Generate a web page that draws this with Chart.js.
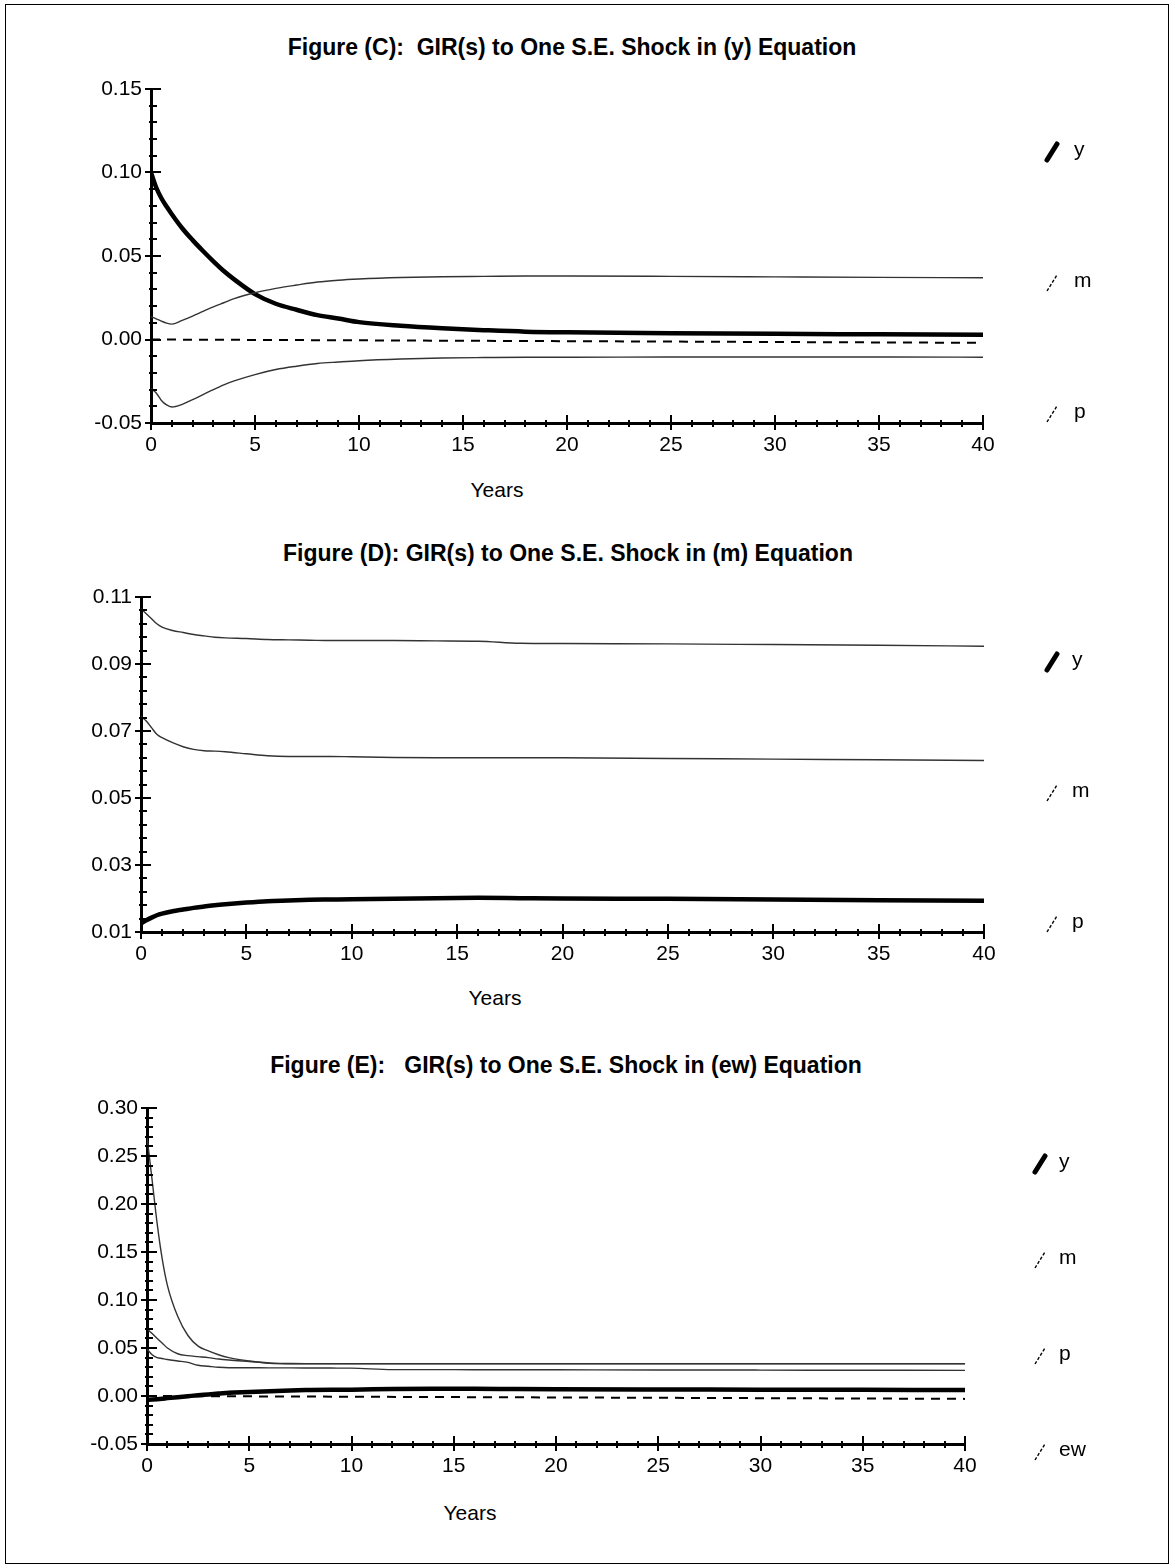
<!DOCTYPE html>
<html><head><meta charset="utf-8">
<script src="https://cdn.jsdelivr.net/npm/chart.js@4.4.1/dist/chart.umd.min.js"></script>
<style>
html,body{margin:0;padding:0;background:#fff;}
body{width:1175px;height:1568px;position:relative;overflow:hidden;font-family:"Liberation Sans",Arial,sans-serif;color:#000;}
.frame{position:absolute;left:5px;top:4px;width:1162px;height:1558px;border:1px solid #000;}
.title{position:absolute;width:800px;text-align:center;font-family:"Liberation Sans Narrow","Arial Narrow","Liberation Sans",sans-serif;font-weight:bold;font-size:23px;line-height:26px;white-space:pre;}
.xlab{position:absolute;width:200px;text-align:center;font-size:21px;line-height:24px;}
canvas{position:absolute;left:0;}
</style></head>
<body>
<div class="frame"></div>
<div class="title" style="left:172px;top:34px;">Figure (C):  GIR(s) to One S.E. Shock in (y) Equation</div>
<div class="title" style="left:168px;top:540px;">Figure (D): GIR(s) to One S.E. Shock in (m) Equation</div>
<div class="title" style="left:166px;top:1052px;">Figure (E):   GIR(s) to One S.E. Shock in (ew) Equation</div>
<div class="xlab" style="left:397px;top:478px;">Years</div>
<div class="xlab" style="left:395px;top:986px;">Years</div>
<div class="xlab" style="left:370px;top:1501px;">Years</div>
<canvas id="cC" width="1175" height="420" style="top:60px"></canvas>
<canvas id="cD" width="1175" height="420" style="top:560px"></canvas>
<canvas id="cE" width="1175" height="420" style="top:1075px"></canvas>
<script>
// ---- data ----
const years = [0,0.25,0.5,0.75,1,1.5,2,2.5,3,3.5,4,5,6,7,8,9,10,12,14,16,18,20,25,30,35,40];
const xTickLabels = [0,5,10,15,20,25,30,35,40];

// Figure (C): shock in (y) equation
const C_y = [0.100,0.091,0.0846,0.0796,0.0750,0.0666,0.0595,0.0530,0.0468,0.0410,0.0360,0.0272,0.0214,0.0178,0.0146,0.0126,0.0104,0.0082,0.0067,0.0056,0.0047,0.0043,0.0038,0.0034,0.0031,0.0028];
const C_m = [0.0136,0.0124,0.0110,0.0098,0.0092,0.0115,0.0140,0.0168,0.0195,0.0220,0.0245,0.0280,0.0306,0.0326,0.0344,0.0355,0.0362,0.0371,0.0376,0.0378,0.0380,0.0380,0.0378,0.0375,0.0372,0.0370];
const C_p = [-0.0294,-0.0320,-0.0365,-0.0392,-0.0404,-0.0388,-0.0360,-0.0330,-0.0300,-0.0272,-0.0248,-0.0210,-0.0180,-0.0160,-0.0144,-0.0135,-0.0127,-0.0117,-0.0111,-0.0108,-0.0106,-0.0106,-0.0105,-0.0105,-0.0105,-0.0106];
const C_yTicks = [-0.05,0.00,0.05,0.10,0.15];

// Figure (D): shock in (m) equation
const D_y = [0.0125,0.0135,0.0143,0.015,0.0155,0.0162,0.0167,0.0172,0.0176,0.018,0.0183,0.0188,0.0192,0.0194,0.0196,0.0197,0.0198,0.0199,0.0201,0.0202,0.0201,0.0200,0.0199,0.0197,0.0195,0.0193];
const D_m = [0.1065,0.105,0.1035,0.102,0.101,0.100,0.0994,0.0988,0.0984,0.098,0.0978,0.0976,0.0973,0.0972,0.0971,0.097,0.097,0.097,0.0969,0.0968,0.0962,0.0961,0.096,0.0958,0.0956,0.0953];
const D_p = [0.0743,0.073,0.071,0.069,0.068,0.0665,0.0653,0.0645,0.0641,0.064,0.0638,0.0632,0.0626,0.0624,0.0624,0.0624,0.0623,0.0621,0.062,0.062,0.062,0.062,0.0618,0.0616,0.0614,0.0612];
const D_yTicks = [0.01,0.03,0.05,0.07,0.09,0.11];

// Figure (E): shock in (ew) equation
const E_y  = [-0.004,-0.0037,-0.0033,-0.0028,-0.0022,-0.0012,-0.0002,0.0008,0.0016,0.0025,0.0035,0.0042,0.0050,0.0058,0.0062,0.0065,0.0066,0.0072,0.0075,0.0075,0.0072,0.0070,0.0068,0.0066,0.0064,0.0062];
const E_m  = [0.070,0.065,0.060,0.055,0.050,0.044,0.042,0.041,0.040,0.0385,0.0375,0.036,0.0345,0.0338,0.0337,0.0337,0.0337,0.0337,0.0337,0.0337,0.0337,0.0337,0.0337,0.0337,0.0337,0.0337];
const E_p  = [0.049,0.043,0.040,0.039,0.038,0.0365,0.035,0.032,0.031,0.030,0.0295,0.0294,0.0293,0.0293,0.0292,0.0291,0.029,0.0275,0.0275,0.0274,0.0274,0.0273,0.0271,0.027,0.0268,0.0267];
const E_ew = [0.270,0.225,0.179,0.142,0.115,0.083,0.063,0.052,0.047,0.043,0.040,0.0365,0.034,0.0335,0.0335,0.0335,0.0335,0.0335,0.0335,0.0335,0.0335,0.0335,0.0335,0.0335,0.0335,0.0335];
const E_yTicks = [-0.05,0.00,0.05,0.10,0.15,0.20,0.25,0.30];

// dashed zero reference line
const zeroYears = [0,40];
const C_zero = [0.000,-0.002];
const E_zero = [0.000,-0.003];

// ---- drawing ----
Chart.defaults.font.family = '"Liberation Sans", Arial, sans-serif';
Chart.defaults.color = '#000';

const crossTicks = {
  id:'crossTicks',
  afterDraw(chart){
    const ctx = chart.ctx, xs = chart.scales.x, ys = chart.scales.y;
    const ax = chart.chartArea.left, ay = chart.chartArea.bottom;
    ctx.save(); ctx.strokeStyle = '#000'; ctx.lineWidth = 2;
    ys.ticks.forEach(t => {
      const py = Math.round(ys.getPixelForValue(t.value));
      const major = t.label !== '';
      ctx.beginPath(); ctx.moveTo(ax - (major?6:2), py); ctx.lineTo(ax + (major?10:6), py); ctx.stroke();
    });
    xs.ticks.forEach(t => {
      const px = Math.round(xs.getPixelForValue(t.value));
      const major = t.label !== '';
      ctx.beginPath(); ctx.moveTo(px, ay - (major?8:3)); ctx.lineTo(px, ay + (major?7:4)); ctx.stroke();
    });
    ctx.restore();
  }
};

const sideLegend = {
  id:'sideLegend',
  afterDraw(chart, args, o){
    const ctx = chart.ctx;
    ctx.save();
    o.items.forEach((it, i) => {
      const cy = chart.chartArea.top + o.top + i*o.step;
      ctx.beginPath();
      if (it.thick) { ctx.lineWidth = 5; ctx.setLineDash([]); ctx.lineCap='round'; }
      else { ctx.lineWidth = 1.4; ctx.setLineDash([3,2]); ctx.lineCap='butt'; }
      ctx.strokeStyle = '#000';
      ctx.moveTo(o.iconX - 5, cy + 8); ctx.lineTo(o.iconX + 5, cy - 8); ctx.stroke();
      ctx.setLineDash([]);
      ctx.fillStyle = '#000'; ctx.font = '21px "Liberation Sans", Arial, sans-serif';
      ctx.textBaseline = 'middle'; ctx.textAlign = 'left';
      ctx.fillText(it.label, o.textX, cy - 2);
    });
    ctx.restore();
  }
};

function pts(xs, ys){ return xs.map((x,i)=>({x:x, y:ys[i]})); }
function thick(label, ys){ return {label, data:pts(years, ys), borderColor:'#000', borderWidth:4.5, pointRadius:0, tension:0, cubicInterpolationMode:'monotone', fill:false}; }
function thin(label, ys){ return {label, data:pts(years, ys), borderColor:'#333', borderWidth:1.4, pointRadius:0, tension:0, cubicInterpolationMode:'monotone', fill:false}; }
function zero(ys){ return {label:'zero', data:pts(zeroYears, ys), borderColor:'#000', borderWidth:2, borderDash:[9,7], pointRadius:0, fill:false}; }

function build(id, cfg){
  const near = (v, arr) => arr.some(a => Math.abs(a - v) < 1e-7);
  new Chart(document.getElementById(id), {
    type:'line',
    data:{datasets:cfg.datasets},
    options:{
      responsive:false, animation:false, devicePixelRatio:1,
      layout:{padding:cfg.pad},
      plugins:{legend:{display:false}, tooltip:{enabled:false}, sideLegend:cfg.legend},
      scales:{
        x:{type:'linear', min:0, max:40,
           afterBuildTicks:s => { const t=[]; for(let k=0;k<=40;k++) t.push({value:k}); s.ticks=t; },
           afterFit:s => { s.height = 40; },
           ticks:{autoSkip:false, maxRotation:0, padding:10, font:{size:21},
                  callback:v => near(v, xTickLabels) ? String(Math.round(v)) : ''},
           grid:{display:true, drawOnChartArea:false, drawTicks:false},
           border:{display:true, color:'#000', width:3}},
        y:{type:'linear', min:cfg.yMin, max:cfg.yMax,
           afterBuildTicks:s => { const t=[]; const n=Math.round((cfg.yMax-cfg.yMin)/cfg.yStep); for(let k=0;k<=n;k++) t.push({value:Math.round((cfg.yMin+k*cfg.yStep)*1e6)/1e6}); s.ticks=t; },
           afterFit:s => { s.width = cfg.left; },
           ticks:{autoSkip:false, padding:9, font:{size:21},
                  callback:v => near(v, cfg.yLabels) ? v.toFixed(2) : ''},
           grid:{display:true, drawOnChartArea:false, drawTicks:false},
           border:{display:true, color:'#000', width:3}}
      }
    },
    plugins:[crossTicks, sideLegend]
  });
}

build('cC', {
  datasets:[zero(C_zero), thin('m', C_m), thin('p', C_p), thick('y', C_y)],
  yMin:-0.05, yMax:0.15, yStep:0.01, yLabels:C_yTicks, left:151,
  pad:{top:29, bottom:17, left:0, right:192},
  legend:{items:[{label:'y',thick:true},{label:'m'},{label:'p'}], top:63, step:131, iconX:1052, textX:1074}
});
build('cD', {
  datasets:[thin('m', D_m), thin('p', D_p), thick('y', D_y)],
  yMin:0.01, yMax:0.11, yStep:0.004, yLabels:D_yTicks, left:141,
  pad:{top:37, bottom:8, left:0, right:191},
  legend:{items:[{label:'y',thick:true},{label:'m'},{label:'p'}], top:65, step:131, iconX:1052, textX:1072}
});
build('cE', {
  datasets:[zero(E_zero), thin('p', E_p), thin('m', E_m), thin('ew', E_ew), thick('y', E_y)],
  yMin:-0.05, yMax:0.30, yStep:0.01, yLabels:E_yTicks, left:147,
  pad:{top:33, bottom:11, left:0, right:210},
  legend:{items:[{label:'y',thick:true},{label:'m'},{label:'p'},{label:'ew'}], top:56, step:96, iconX:1040, textX:1059}
});
</script>
</body></html>
